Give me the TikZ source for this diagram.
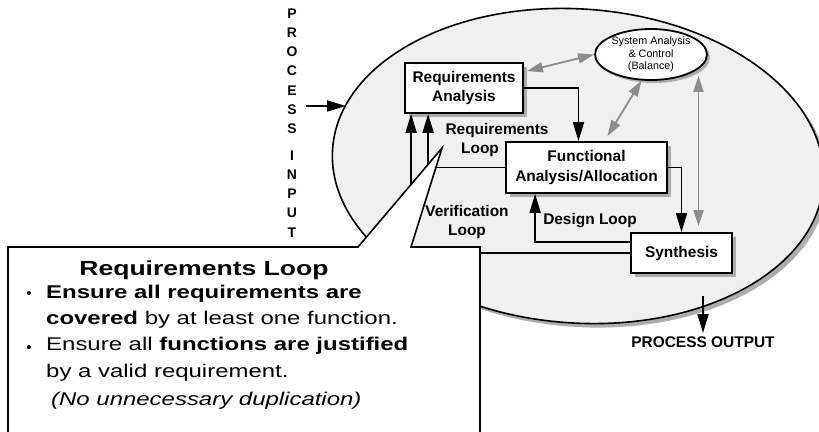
\documentclass[tikz,border=0pt]{standalone}
\usepackage{fontspec}
\setmainfont{Liberation Sans}
\newfontfamily\widesans{Liberation Sans}[FakeStretch=1.3]
\usetikzlibrary{arrows.meta,positioning,shapes.geometric,shadows}
\definecolor{procfill}{gray}{0.94}
\definecolor{shadowgray}{gray}{0.68}
\definecolor{linkgray}{gray}{0.55}

\begin{document}
\begin{tikzpicture}[
    x=1bp, y=-1bp,
    box/.style={draw, line width=1.8bp, fill=white, align=center, inner sep=0pt, font=\fontsize{15.5}{19}\selectfont\bfseries, drop shadow={shadow xshift=4bp, shadow yshift=-4bp, fill=shadowgray, opacity=1}},
    lbl/.style={font=\fontsize{15.5}{19}\selectfont\bfseries, align=center},
    note/.style={font=\widesans\fontsize{18.5}{26}\selectfont, align=left, inner sep=0pt},
    arrow/.style={-{Triangle[length=19bp, width=11bp]}, line width=1.8bp},
    garrow/.style={{Triangle[length=16bp, width=10bp]}-{Triangle[length=16bp, width=10bp]}, line width=1.8bp, draw=linkgray}
]
\useasboundingbox (0,0) rectangle (819,431);

% process ellipse and blocks
\node[draw, ellipse, line width=1.6bp, fill=procfill, minimum width=492bp, minimum height=314bp, rotate=-4, drop shadow={shadow xshift=4bp, shadow yshift=-4bp, fill=shadowgray, opacity=1}] (proc) at (578,166) {};
\node[draw, ellipse, line width=1.8bp, fill=white, inner sep=0pt, minimum width=112bp, minimum height=51bp, align=center, font=\fontsize{10.8}{12.5}\selectfont, drop shadow={shadow xshift=3bp, shadow yshift=-3bp, fill=shadowgray, opacity=1}] (sac) at (651,54.5) {System Analysis\\\& Control\\(Balance)};
\node[box, minimum width=118bp, minimum height=50bp] (ra) at (464,88) {Requirements\\Analysis};
\node[box, minimum width=161bp, minimum height=51bp, font=\fontsize{15.5}{20}\selectfont\bfseries] (fa) at (586.5,167.5) {Functional\\Analysis/Allocation};
\node[box, minimum width=101bp, minimum height=40bp] (syn) at (681.5,253) {Synthesis};

% input / output
\node[font=\fontsize{14}{19.2}\selectfont\bfseries, align=center, inner sep=0pt] (pin) at (292,123) {P\\R\\O\\C\\E\\S\\S\\[8bp]I\\N\\P\\U\\T};
\coordinate (inpt) at (306,106);
\coordinate (procin) at (346,106);
\draw[arrow] (inpt) -- (procin);
\node[lbl] (pout) at (703,342) {PROCESS OUTPUT};
\coordinate (procout) at (703,296);
\draw[arrow] (procout) -- (pout.north);

% loops
\draw[arrow] (ra.east) -| ([xshift=-8bp]fa.north);
\draw[arrow] (fa.east) -| (syn.north);
\draw[arrow] ([yshift=11bp]syn.west) -| ([xshift=30bp]fa.south west);
\draw[arrow] (fa.west) -| ([xshift=24bp]ra.south west);
\draw[arrow] (syn.west) -| ([xshift=7bp]ra.south west);
\node[lbl] (rlbl) at (497,140) {Requirements\\Loop\hspace*{34bp}};
\node[lbl] (vlbl) at (467,222) {Verification\\Loop};
\node[lbl] (dlbl) at (590,221) {Design Loop};

% balance links
\draw[garrow] ([xshift=3bp, yshift=-9bp]ra.north east) -- (sac.west);
\draw[garrow] ([xshift=21bp, yshift=5bp]fa.north) -- (sac.250);
\draw[garrow] ([xshift=17bp, yshift=6bp]syn.north) -- ([xshift=17bp, yshift=5bp]syn.north |- sac.south);

% callout
\coordinate (tip) at (442,148);
\draw[line width=1.6bp, fill=white] (8,247) -- (358,247) -- (tip) -- (411,247) -- (480,247) -- (480,445) -- (8,445) -- cycle;
\node[font=\widesans\fontsize{20.5}{24}\selectfont\bfseries] (cotitle) at (204,270) {Requirements Loop};
\node[note, anchor=north west] (b1) at (46,285) {\textbf{Ensure all requirements are}\\\textbf{covered} by at least one function.};
\node[note, anchor=north west, font=\widesans\fontsize{18.5}{27.5}\selectfont] (b2) at (46,337) {Ensure all \textbf{functions are justified}\\by a valid requirement.\\\hspace{5bp}\textit{(No unnecessary duplication)}};
\node[font=\fontsize{15}{15}\selectfont] (d1) at (29,295) {•};
\node[font=\fontsize{15}{15}\selectfont] (d2) at (29,349) {•};
\end{tikzpicture}
\end{document}
